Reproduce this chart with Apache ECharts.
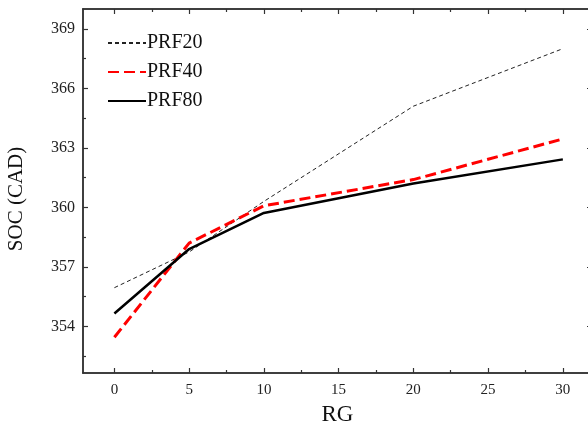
<!DOCTYPE html>
<html><head><meta charset="utf-8">
<script src="https://cdn.jsdelivr.net/npm/echarts@6/dist/echarts.min.js"></script>
<style>html,body{margin:0;padding:0;background:#fff}#c{width:588px;height:427px}</style>
</head><body><div id="c"></div>
<script>
const xValues = [0, 5, 10, 20, 30];
const prf20 = [355.95, 357.75, 360.3, 365.1, 368.0];
const prf40 = [353.45, 358.2, 360.08, 361.4, 363.45];
const prf80 = [354.65, 357.9, 359.72, 361.2, 362.42];
const xTicks = [0, 5, 10, 15, 20, 25, 30];
const xMinor = [2.5, 7.5, 12.5, 17.5, 22.5, 27.5];
const yTicks = [354, 357, 360, 363, 366, 369];
const yMinor = [352.5, 355.5, 358.5, 361.5, 364.5, 367.5];
const seriesNames = ['PRF20', 'PRF40', 'PRF80'];
const xTitle = 'RG';
const yTitle = 'SOC (CAD)';

const X_MIN = -2.1, X_MAX = 31.95, Y_MIN = 351.65, Y_MAX = 370;
const axisColor = '#333';
const serif = 'Liberation Serif';

function xAx(pos, ticks, len, labels, name) {
  return {
    type: 'value', position: pos, min: X_MIN, max: X_MAX,
    name: name || '', nameLocation: 'middle', nameGap: 30,
    nameTextStyle: {fontFamily: serif, fontSize: 23, color: '#111'},
    axisLine: {show: true, onZero: false, lineStyle: {color: axisColor, width: 1.5}},
    axisTick: {show: true, inside: true, length: len, customValues: ticks, lineStyle: {color: axisColor, width: 1.2}},
    axisLabel: labels ? {show: true, customValues: ticks, fontFamily: serif, fontSize: 15, color: '#222', margin: 10} : {show: false},
    splitLine: {show: false}
  };
}
function yAx(pos, ticks, len, labels) {
  return {
    type: 'value', position: pos, min: Y_MIN, max: Y_MAX,
    axisLine: {show: true, onZero: false, lineStyle: {color: axisColor, width: 1.5}},
    axisTick: {show: true, inside: true, length: len, customValues: ticks, lineStyle: {color: axisColor, width: 1.2}},
    axisLabel: labels ? {show: true, customValues: ticks, fontFamily: serif, fontSize: 16, color: '#222', margin: 8} : {show: false},
    splitLine: {show: false}
  };
}

const styles = [
  {color: '#222', width: 1, type: [4, 3]},
  {color: '#ff0000', width: 3, type: [11, 5]},
  {color: '#000', width: 2.5, type: 'solid'}
];
const datas = [prf20, prf40, prf80];

const chart = echarts.init(document.getElementById('c'), null, {renderer: 'canvas'});
chart.setOption({
  animation: false,
  backgroundColor: '#fff',
  grid: {left: 83, top: 9, right: -4, bottom: 54, outerBoundsMode: 'none', containLabel: false},
  legend: {
    orient: 'vertical', left: 102, top: 28, itemWidth: 38, itemHeight: 14, itemGap: 9,
    itemStyle: {opacity: 0},
    textStyle: {fontFamily: serif, fontSize: 20, color: '#111', padding: [0, 0, 0, -4]},
    data: seriesNames
  },
  graphic: [{
    type: 'text', x: 16, y: 199, rotation: Math.PI / 2,
    style: {text: yTitle, fontFamily: serif, fontSize: 21, fill: '#111', align: 'center', verticalAlign: 'middle'}
  }],
  xAxis: [
    xAx('bottom', xTicks, 5, true, xTitle),
    xAx('bottom', xMinor, 3, false),
    xAx('top', xTicks, 5, false),
    xAx('top', xMinor, 3, false)
  ],
  yAxis: [
    yAx('left', yTicks, 5, true),
    yAx('left', yMinor, 3, false),
    yAx('right', yTicks, 5, false),
    yAx('right', yMinor, 3, false)
  ],
  series: seriesNames.map((n, i) => ({
    name: n, type: 'line', xAxisIndex: 0, yAxisIndex: 0,
    symbol: 'none', smooth: false,
    lineStyle: styles[i], itemStyle: {color: styles[i].color},
    data: xValues.map((x, j) => [x, datas[i][j]])
  }))
});
</script></body></html>
